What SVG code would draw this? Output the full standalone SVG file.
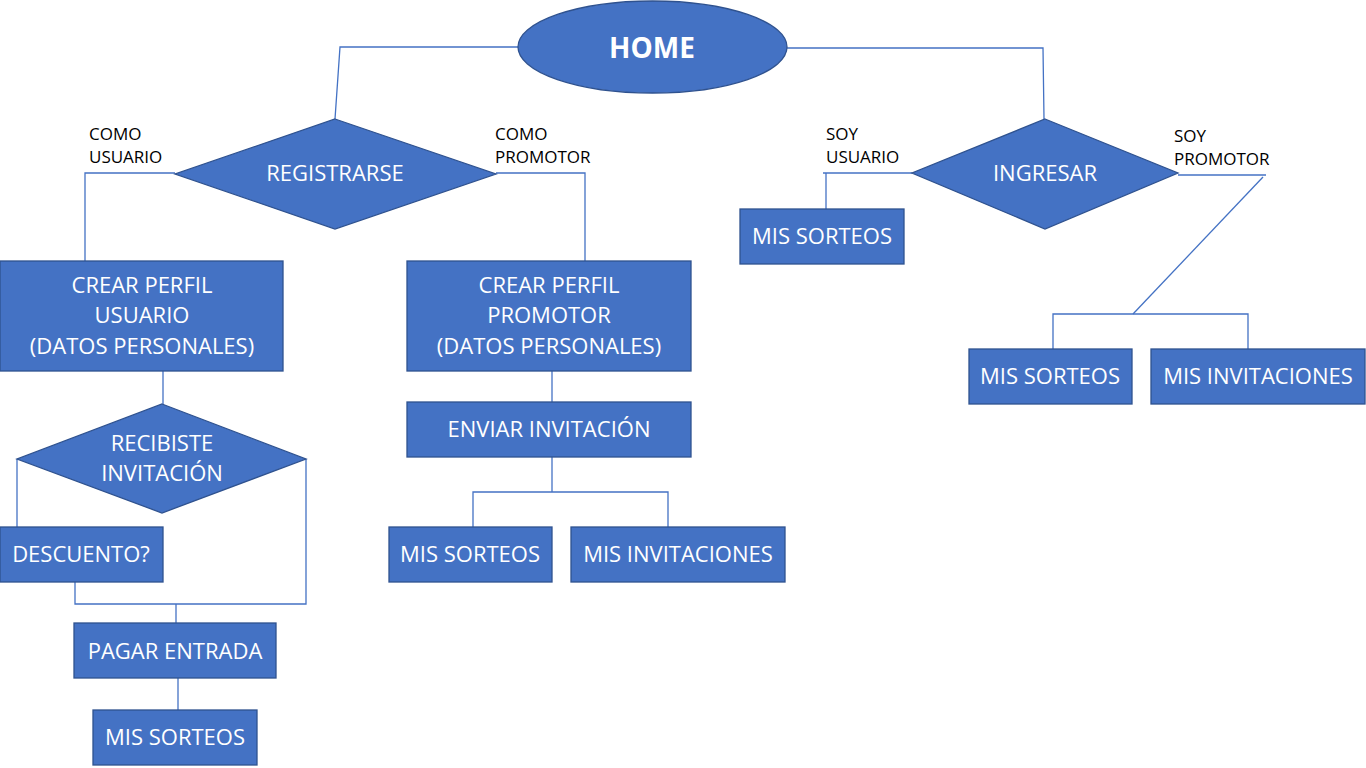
<svg xmlns="http://www.w3.org/2000/svg" width="1366" height="768" viewBox="0 0 1366 768">
<style>
.n{fill:#4472C4;stroke:#2F528F;stroke-width:1.3}
.t{fill:#fff;font-family:"Open Sans","Noto Sans",sans-serif;font-size:22px;text-anchor:middle}
.l{fill:#000;font-family:"Open Sans","Noto Sans",sans-serif;font-size:17px}
.c{fill:none;stroke:#4472C4;stroke-width:1.3}
</style>
<rect width="1366" height="768" fill="#fff"/>
<g id="connectors">
<polyline class="c" points="518,47 340,47 335,119"/>
<polyline class="c" points="175,173 85,173 85,261"/>
<polyline class="c" points="496,173 585,173 585,261"/>
<line class="c" x1="163" y1="371" x2="163" y2="404"/>
<polyline class="c" points="17,459 17,527"/>
<polyline class="c" points="306,459 306,604 75,604 75,582"/>
<line class="c" x1="176" y1="604" x2="176" y2="623"/>
<line class="c" x1="178" y1="678" x2="178" y2="710"/>
<line class="c" x1="552" y1="371" x2="552" y2="402"/>
<polyline class="c" points="552,457 552,492"/>
<polyline class="c" points="473,527 473,492 668,492 668,527"/>
<polyline class="c" points="787,48 1043,48 1044,119"/>
<polyline class="c" points="912,173 823,173"/>
<line class="c" x1="826" y1="173" x2="826" y2="209"/>
<polyline class="c" points="1178,175 1266,175"/>
<line class="c" x1="1263" y1="177" x2="1133" y2="314"/>
<polyline class="c" points="1053,349 1053,314 1248,314 1248,349"/>
</g>
<g id="labels">
<text class="l" x="89" y="140">COMO</text>
<text class="l" x="89" y="163">USUARIO</text>
<text class="l" x="495" y="140">COMO</text>
<text class="l" x="495" y="163">PROMOTOR</text>
<text class="l" x="826" y="140">SOY</text>
<text class="l" x="826" y="163">USUARIO</text>
<text class="l" x="1174" y="142">SOY</text>
<text class="l" x="1174" y="165">PROMOTOR</text>
</g>
<g id="home">
<ellipse class="n" cx="652.5" cy="47" rx="134.5" ry="46"/>
<text class="t" x="652" y="58" style="font-weight:bold;font-size:28px">HOME</text>
</g>
<g id="registrarse">
<polygon class="n" points="335,119 496,174 335,229 175,174"/>
<text class="t" x="335" y="181">REGISTRARSE</text>
</g>
<g id="ingresar">
<polygon class="n" points="1045,119 1178,173 1045,229 912,173"/>
<text class="t" x="1045" y="181">INGRESAR</text>
</g>
<g id="crear-usuario">
<rect class="n" x="0" y="261" width="283" height="110"/>
<text class="t" x="142" y="293">CREAR PERFIL</text>
<text class="t" x="142" y="323">USUARIO</text>
<text class="t" x="142" y="354">(DATOS PERSONALES)</text>
</g>
<g id="recibiste">
<polygon class="n" points="162,404 306,459 162,513 17,459"/>
<text class="t" x="162" y="451">RECIBISTE</text>
<text class="t" x="162" y="481">INVITACIÓN</text>
</g>
<g id="descuento">
<rect class="n" x="0" y="527" width="163" height="55"/>
<text class="t" x="81" y="562">DESCUENTO?</text>
</g>
<g id="pagar">
<rect class="n" x="74" y="623" width="202" height="55"/>
<text class="t" x="175" y="659">PAGAR ENTRADA</text>
</g>
<g id="sorteos-usuario">
<rect class="n" x="93" y="710" width="164" height="55"/>
<text class="t" x="175" y="745">MIS SORTEOS</text>
</g>
<g id="crear-promotor">
<rect class="n" x="407" y="261" width="284" height="110"/>
<text class="t" x="549" y="293">CREAR PERFIL</text>
<text class="t" x="549" y="323">PROMOTOR</text>
<text class="t" x="549" y="354">(DATOS PERSONALES)</text>
</g>
<g id="enviar">
<rect class="n" x="407" y="402" width="284" height="55"/>
<text class="t" x="549" y="437">ENVIAR INVITACIÓN</text>
</g>
<g id="sorteos-promotor">
<rect class="n" x="389" y="527" width="163" height="55"/>
<text class="t" x="470" y="562">MIS SORTEOS</text>
</g>
<g id="invitaciones-promotor">
<rect class="n" x="571" y="527" width="214" height="55"/>
<text class="t" x="678" y="562">MIS INVITACIONES</text>
</g>
<g id="sorteos-ingreso-usuario">
<rect class="n" x="740" y="209" width="164" height="55"/>
<text class="t" x="822" y="244">MIS SORTEOS</text>
</g>
<g id="sorteos-ingreso-promotor">
<rect class="n" x="969" y="349" width="163" height="55"/>
<text class="t" x="1050" y="384">MIS SORTEOS</text>
</g>
<g id="invitaciones-ingreso-promotor">
<rect class="n" x="1151" y="349" width="214" height="55"/>
<text class="t" x="1258" y="384">MIS INVITACIONES</text>
</g>
</svg>
